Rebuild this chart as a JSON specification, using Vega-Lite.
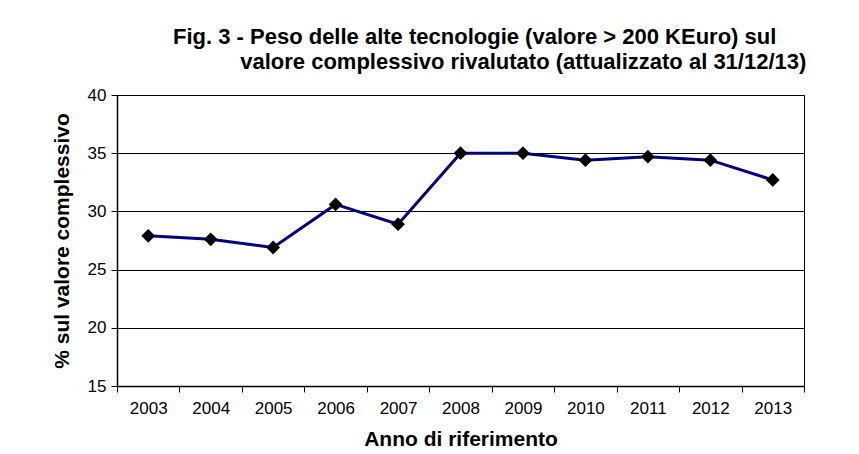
{
  "$schema": "https://vega.github.io/schema/vega-lite/v6.json",
  "autosize": {"type": "none"},
  "width": 687,
  "height": 291,
  "padding": {"left": 117, "top": 95, "right": 55, "bottom": 68},
  "background": "white",
  "title": {
    "text": ["Fig. 3 - Peso delle alte tecnologie (valore > 200 KEuro) sul", "\u200b\u00a0\u00a0\u00a0\u00a0\u00a0\u00a0\u00a0\u00a0\u00a0\u00a0\u00a0valore complessivo rivalutato (attualizzato al 31/12/13)"],
    "anchor": "start",
    "frame": "group",
    "dx": 56,
    "offset": 12,
    "font": "Liberation Sans",
    "fontSize": 22,
    "fontWeight": "bold",
    "lineHeight": 25,
    "color": "black"
  },
  "data": {
    "values": [
      {"anno": "2003", "valore": 27.9},
      {"anno": "2004", "valore": 27.6},
      {"anno": "2005", "valore": 26.9},
      {"anno": "2006", "valore": 30.6},
      {"anno": "2007", "valore": 28.9},
      {"anno": "2008", "valore": 35.0},
      {"anno": "2009", "valore": 35.0},
      {"anno": "2010", "valore": 34.4},
      {"anno": "2011", "valore": 34.7},
      {"anno": "2012", "valore": 34.4},
      {"anno": "2013", "valore": 32.7}
    ]
  },
  "encoding": {
    "x": {
      "field": "anno",
      "type": "ordinal",
      "scale": {"paddingInner": 0, "paddingOuter": 0},
      "axis": {
        "title": "Anno di riferimento",
        "labelAngle": 0,
        "tickBand": "extent",
        "tickSize": 6,
        "labelPadding": 8,
        "titlePadding": 12,
        "grid": false
      }
    },
    "y": {
      "field": "valore",
      "type": "quantitative",
      "scale": {"domain": [15, 40], "nice": false, "zero": false},
      "axis": {
        "title": "% sul valore complessivo",
        "values": [15, 20, 25, 30, 35, 40],
        "tickSize": 6,
        "labelPadding": 5,
        "titlePadding": 15,
        "grid": true
      }
    }
  },
  "layer": [
    {"mark": {"type": "line", "color": "#000080", "strokeWidth": 3}},
    {"mark": {"type": "point", "shape": "diamond", "size": 190, "filled": true, "color": "black", "opacity": 1}}
  ],
  "config": {
    "font": "Liberation Sans",
    "view": {"stroke": "black", "strokeWidth": 1},
    "axis": {
      "labelFont": "Liberation Sans",
      "labelFontSize": 17,
      "labelColor": "black",
      "titleFont": "Liberation Sans",
      "titleFontSize": 21,
      "titleFontWeight": "bold",
      "titleColor": "black",
      "domainColor": "black",
      "domainWidth": 1.5,
      "tickColor": "black",
      "tickWidth": 1,
      "gridColor": "black",
      "gridWidth": 1,
      "gridOpacity": 1
    }
  }
}
